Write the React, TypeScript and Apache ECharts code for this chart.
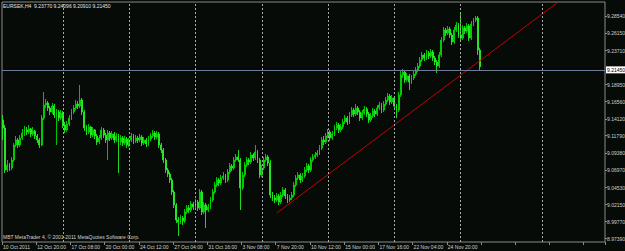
import React, { useEffect, useRef } from "react";
import * as echarts from "echarts";

const symbolName = "EURSEK,H4";
const copyright = "MBT MetaTrader 4, © 2001-2011 MetaQuotes Software Corp.";

const timeLabels = [
  "10 Oct 2011", "12 Oct 20:00", "17 Oct 08:00", "20 Oct 00:00", "24 Oct 12:00",
  "27 Oct 04:00", "31 Oct 16:00", "3 Nov 08:00", "7 Nov 20:00", "10 Nov 12:00",
  "15 Nov 00:00", "17 Nov 16:00", "22 Nov 04:00", "24 Nov 20:00",
];

const priceLabels = [
  8.9739, 8.9977, 9.0215, 9.0453, 9.0697, 9.0938, 9.1179, 9.1412, 9.1656, 9.1895,
  9.2371, 9.2615, 9.2854,
];

const firstOpen = 9.1398;

const closes = [
  9.1286, 9.0698, 9.0768, 9.0726, 9.0838, 9.1048, 9.1118, 9.1048, 9.1146, 9.1216,
  9.1258, 9.1230, 9.1272, 9.1202, 9.1244, 9.1174, 9.1118, 9.1048, 9.1426, 9.1608,
  9.1636, 9.1566, 9.1510, 9.1594, 9.1468, 9.1510, 9.1426, 9.1496, 9.1328, 9.1258,
  9.1342, 9.1426, 9.1510, 9.1566, 9.1622, 9.1594, 9.1678, 9.1510, 9.1286, 9.1230,
  9.1300, 9.1188, 9.1258, 9.1174, 9.1090, 9.1146, 9.1258, 9.1188, 9.1118, 9.1216,
  9.1146, 9.1202, 9.1118, 9.1174, 9.1090, 9.1146, 9.1076, 9.1132, 9.1048, 9.1118,
  9.1174, 9.1104, 9.1146, 9.1118, 9.1160, 9.1076, 9.1118, 9.1062, 9.1132, 9.1174,
  9.1216, 9.1160, 9.1202, 9.1048, 9.0978, 9.0838, 9.0698, 9.0642, 9.0558, 9.0390,
  9.0208, 8.9998, 8.9970, 9.0026, 8.9984, 9.0110, 9.0166, 9.0138, 9.0222, 9.0180,
  9.0250, 9.0166, 9.0390, 9.0110, 9.0208, 9.0138, 9.0180, 9.0278, 9.0390, 9.0488,
  9.0558, 9.0516, 9.0586, 9.0614, 9.0558, 9.0670, 9.0754, 9.0726, 9.0838, 9.0880,
  9.0838, 9.0446, 9.0628, 9.0768, 9.0838, 9.0810, 9.0908, 9.0866, 9.0950, 9.0838,
  9.0628, 9.0726, 9.0838, 9.0880, 9.0796, 9.0348, 9.0306, 9.0278, 9.0334, 9.0250,
  9.0348, 9.0418, 9.0334, 9.0278, 9.0306, 9.0348, 9.0488, 9.0586, 9.0628, 9.0558,
  9.0614, 9.0698, 9.0754, 9.0698, 9.0838, 9.0880, 9.0908, 9.0936, 9.1006, 9.1118,
  9.1090, 9.1174, 9.1230, 9.1146, 9.1202, 9.1286, 9.1328, 9.1258, 9.1300, 9.1370,
  9.1426, 9.1370, 9.1468, 9.1538, 9.1482, 9.1566, 9.1510, 9.1426, 9.1496, 9.1552,
  9.1482, 9.1398, 9.1454, 9.1524, 9.1482, 9.1566, 9.1608, 9.1538, 9.1622, 9.1678,
  9.1734, 9.1650, 9.1706, 9.1594, 9.1538, 9.1748, 9.2028, 9.2070, 9.1958, 9.2014,
  9.1930, 9.1986, 9.2042, 9.2098, 9.2154, 9.2238, 9.2308, 9.2266, 9.2336, 9.2294,
  9.2350, 9.2266, 9.2210, 9.2154, 9.2308, 9.2518, 9.2658, 9.2616, 9.2672, 9.2588,
  9.2490, 9.2658, 9.2728, 9.2588, 9.2546, 9.2686, 9.2644, 9.2714, 9.2546, 9.2742,
  9.2798, 9.2826, 9.2377, 9.2145,
];

const highs = [
  9.1468, 9.1328, 9.0838, 9.0796, 9.0880, 9.1076, 9.1174, 9.1146, 9.1188, 9.1272,
  9.1314, 9.1300, 9.1328, 9.1286, 9.1300, 9.1258, 9.1202, 9.1146, 9.1468, 9.1790,
  9.1692, 9.1664, 9.1594, 9.1636, 9.1622, 9.1552, 9.1538, 9.1538, 9.1524, 9.1370,
  9.1384, 9.1468, 9.1552, 9.1608, 9.1678, 9.1664, 9.1888, 9.1706, 9.1538, 9.1328,
  9.1342, 9.1314, 9.1300, 9.1272, 9.1202, 9.1188, 9.1300, 9.1286, 9.1216, 9.1258,
  9.1244, 9.1244, 9.1230, 9.1216, 9.1202, 9.1188, 9.1174, 9.1174, 9.1160, 9.1146,
  9.1216, 9.1202, 9.1188, 9.1174, 9.1202, 9.1188, 9.1160, 9.1146, 9.1174, 9.1216,
  9.1258, 9.1244, 9.1244, 9.1230, 9.1076, 9.1006, 9.0866, 9.0726, 9.0670, 9.0586,
  9.0418, 9.0236, 9.0040, 9.0068, 9.0054, 9.0152, 9.0208, 9.0208, 9.0264, 9.0250,
  9.0292, 9.0278, 9.0432, 9.0418, 9.0250, 9.0236, 9.0222, 9.0320, 9.0432, 9.0530,
  9.0600, 9.0586, 9.0628, 9.0670, 9.0642, 9.0712, 9.0796, 9.0782, 9.0880, 9.0922,
  9.0978, 9.0866, 9.0670, 9.0810, 9.0880, 9.0866, 9.0950, 9.0936, 9.1048, 9.0978,
  9.0866, 9.0768, 9.0880, 9.0922, 9.0908, 9.0838, 9.0390, 9.0348, 9.0376, 9.0362,
  9.0390, 9.0460, 9.0446, 9.0362, 9.0348, 9.0390, 9.0530, 9.0628, 9.0670, 9.0656,
  9.0656, 9.0740, 9.0796, 9.0782, 9.0880, 9.0922, 9.0950, 9.0978, 9.1048, 9.1160,
  9.1174, 9.1216, 9.1272, 9.1258, 9.1244, 9.1328, 9.1370, 9.1356, 9.1342, 9.1412,
  9.1468, 9.1454, 9.1510, 9.1580, 9.1566, 9.1622, 9.1594, 9.1538, 9.1538, 9.1594,
  9.1580, 9.1510, 9.1496, 9.1566, 9.1552, 9.1608, 9.1650, 9.1636, 9.1664, 9.1720,
  9.1776, 9.1762, 9.1748, 9.1734, 9.1622, 9.1790, 9.2098, 9.2112, 9.2098, 9.2056,
  9.2042, 9.2028, 9.2084, 9.2140, 9.2196, 9.2280, 9.2350, 9.2336, 9.2378, 9.2364,
  9.2392, 9.2378, 9.2294, 9.2238, 9.2350, 9.2560, 9.2700, 9.2686, 9.2714, 9.2700,
  9.2616, 9.2700, 9.2770, 9.2756, 9.2896, 9.2728, 9.2714, 9.2756, 9.2742, 9.2784,
  9.2826, 9.2854, 9.2854, 9.24096,
];

const lows = [
  9.1118, 9.0656, 9.0670, 9.0684, 9.0698, 9.0810, 9.1020, 9.1006, 9.1020, 9.1118,
  9.1174, 9.1188, 9.1202, 9.1160, 9.1174, 9.1132, 9.1076, 9.1006, 9.1034, 9.1398,
  9.1566, 9.1524, 9.1468, 9.1482, 9.1426, 9.1048, 9.1384, 9.1398, 9.1286, 9.1216,
  9.1230, 9.1314, 9.1398, 9.1482, 9.1538, 9.1552, 9.1566, 9.1468, 9.1244, 9.1188,
  9.1202, 9.1146, 9.1160, 9.1132, 9.1048, 9.1062, 9.1118, 9.1146, 9.1076, 9.0838,
  9.1104, 9.1118, 9.1076, 9.1090, 9.0656, 9.1048, 9.1034, 9.1048, 9.1006, 9.1020,
  9.1090, 9.1062, 9.1076, 9.1076, 9.1090, 9.1034, 9.1048, 9.1020, 9.1034, 9.1104,
  9.1146, 9.1118, 9.1132, 9.1006, 9.0936, 9.0796, 9.0656, 9.0600, 9.0516, 9.0348,
  9.0166, 8.9956, 8.9774, 8.9942, 8.9928, 8.9956, 9.0082, 9.0096, 9.0110, 9.0138,
  9.0152, 9.0124, 9.0138, 9.0068, 9.0082, 8.9886, 9.0110, 9.0152, 9.0250, 9.0362,
  9.0460, 9.0474, 9.0488, 9.0558, 9.0516, 9.0530, 9.0642, 9.0684, 9.0698, 9.0810,
  9.0810, 9.0138, 9.0418, 9.0600, 9.0740, 9.0768, 9.0782, 9.0824, 9.0838, 9.0796,
  9.0586, 9.0600, 9.0698, 9.0810, 9.0754, 9.0306, 9.0264, 9.0236, 9.0250, 9.0208,
  9.0222, 9.0320, 9.0292, 9.0236, 9.0250, 9.0278, 9.0320, 9.0460, 9.0558, 9.0516,
  9.0530, 9.0586, 9.0670, 9.0656, 9.0670, 9.0810, 9.0852, 9.0880, 9.0908, 9.0978,
  9.1048, 9.1062, 9.1146, 9.1104, 9.1118, 9.1174, 9.1258, 9.1216, 9.1230, 9.1272,
  9.1342, 9.1328, 9.1342, 9.1440, 9.1440, 9.1454, 9.1468, 9.1384, 9.1398, 9.1468,
  9.1440, 9.1356, 9.1370, 9.1426, 9.1440, 9.1454, 9.1538, 9.1496, 9.1510, 9.1594,
  9.1650, 9.1608, 9.1622, 9.1552, 9.1426, 9.1510, 9.1720, 9.1986, 9.1916, 9.1930,
  9.1818, 9.1902, 9.1958, 9.2014, 9.2070, 9.2126, 9.2210, 9.2224, 9.2238, 9.2252,
  9.2266, 9.2224, 9.2168, 9.2056, 9.2126, 9.2280, 9.2490, 9.2574, 9.2588, 9.2546,
  9.2448, 9.2462, 9.2630, 9.2546, 9.2504, 9.2518, 9.2602, 9.2616, 9.2504, 9.2518,
  9.2714, 9.2770, 9.2308, 9.2091,
];

// trend line anchor points (bar index, price)
const trendBars = [128, 259];
const trendPrices = [9.0096, 9.3036];

// vertical grid separators (bar index)
const gridBars = [28, 59, 90, 121, 152, 183, 214, 252];

const TOTAL_SLOTS = 282;
const LABEL_STEP = 16;

export default function App() {
  const ref = useRef<HTMLDivElement>(null);

  useEffect(() => {
    document.body.style.margin = "0";
    document.body.style.background = "#070b07";
    if (!ref.current) return;
    const chart = echarts.init(ref.current, undefined, { renderer: "svg" });

    const categories: string[] = [];
    for (let i = 0; i < TOTAL_SLOTS; i++) {
      const k = i / LABEL_STEP;
      categories.push(i % LABEL_STEP === 0 && k < timeLabels.length ? timeLabels[k] : "");
    }

    const ohlc = closes.map((c, i) => {
      const o = i === 0 ? firstOpen : closes[i - 1];
      return [o, c, lows[i], highs[i]];
    });

    const trend: (number | null)[] = new Array(TOTAL_SLOTS).fill(null);
    trendBars.forEach((b, i) => (trend[b] = trendPrices[i]));

    const last = closes.length - 1;
    const lastOpen = closes[last - 1];
    const lastClose = closes[last];
    const header =
      symbolName +
      "  " +
      [lastOpen, highs[last], lows[last], lastClose].map((v) => v.toFixed(5)).join(" ");

    const font = "Liberation Sans";

    chart.setOption({
      animation: false,
      backgroundColor: "#070b07",
      grid: {
        left: 2,
        right: 20,
        top: 2,
        bottom: 9,
        outerBoundsMode: "none",
        containLabel: false,
        show: true,
        borderColor: "#8a8a8a",
        borderWidth: 1,
        backgroundColor: "transparent",
      },
      xAxis: {
        type: "category",
        data: categories,
        boundaryGap: true,
        axisLine: { show: false },
        axisTick: {
          show: true,
          interval: LABEL_STEP - 1,
          length: 3,
          lineStyle: { color: "#8a8a8a" },
        },
        axisLabel: {
          show: true,
          interval: LABEL_STEP - 1,
          align: "left",
          margin: 2,
          fontSize: 5,
          fontFamily: font,
          color: "#d0d0d0",
        },
        splitLine: { show: false },
      },
      yAxis: {
        type: "value",
        position: "right",
        min: 8.969,
        max: 9.305,
        axisLine: { show: false },
        splitLine: { show: false },
        axisTick: {
          show: true,
          length: 2,
          customValues: priceLabels,
          lineStyle: { color: "#8a8a8a" },
        },
        axisLabel: {
          show: true,
          customValues: priceLabels,
          formatter: (v: number) => v.toFixed(5),
          margin: 2,
          fontSize: 5,
          fontFamily: font,
          color: "#d0d0d0",
        },
      },
      graphic: [
        {
          type: "text",
          left: 3,
          top: 3,
          style: { text: header, fontSize: 5, fontFamily: font, fill: "#e6e6e6" },
        },
        {
          type: "text",
          left: 3,
          top: 234,
          style: { text: copyright, fontSize: 5, fontFamily: font, fill: "#d0d0d0" },
        },
      ],
      series: [
        {
          type: "line",
          data: [],
          silent: true,
          markLine: {
            silent: true,
            symbol: ["none", "none"],
            data: gridBars.map((b) => ({ xAxis: b })),
            lineStyle: { color: "#a8a8a8", width: 1, type: [2, 2] },
            label: { show: false },
          },
        },
        {
          type: "candlestick",
          data: ohlc,
          barWidth: 1.4,
          itemStyle: {
            color: "#00a800",
            color0: "#66ff55",
            borderColor: "#00d800",
            borderColor0: "#22ee22",
            borderWidth: 0.9,
          },
          markLine: {
            silent: true,
            symbol: ["none", "none"],
            data: [{ yAxis: lastClose }],
            lineStyle: { color: "#6d7b99", width: 1, type: "solid" },
            label: {
              show: true,
              position: "end",
              distance: 1,
              formatter: () => lastClose.toFixed(5),
              backgroundColor: "#ffffff",
              color: "#000000",
              fontSize: 5,
              fontFamily: font,
              padding: [1, 2, 1, 1],
            },
          },
        },
        {
          type: "line",
          data: trend,
          connectNulls: true,
          showSymbol: false,
          symbol: "none",
          lineStyle: { color: "#c80000", width: 1 },
          silent: true,
        },
      ],
    });

    return () => chart.dispose();
  }, []);

  return <div ref={ref} style={{ width: 625, height: 251 }} />;
}
